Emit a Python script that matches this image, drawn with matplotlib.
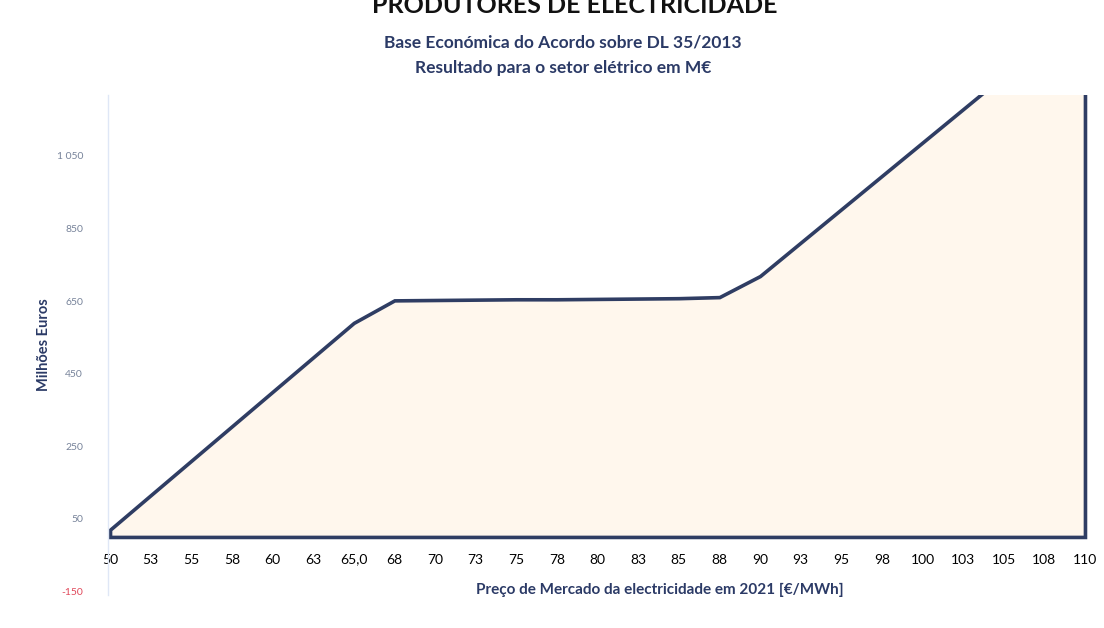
import matplotlib.pyplot as plt
import numpy as np

prices = ['50', '53', '55', '58', '60', '63', '65,0', '68', '70', '73', '75', '78', '80',
          '83', '85', '88', '90', '93', '95', '98', '100', '103', '105', '108', '110']
result = [20, 115, 210, 305, 400, 495, 590, 652, 653, 654, 655, 655, 656,
          657, 658, 661, 719, 811, 903, 995, 1087, 1179, 1271, 1363, 1455]
y_ticks = [-150, 50, 250, 450, 650, 850, 1050]
y_labels = ['-150', '50', '250', '450', '650', '850', '1 050']

navy = '#2f3d63'
title_col = '#2b3a66'

plt.rcParams['font.family'] = ['Lato', 'DejaVu Sans']

fig = plt.figure(figsize=(11.04, 6.28), dpi=100)
ax = fig.add_axes([108 / 1104, 1 - 595 / 628, (1087 - 108) / 1104, (595 - 95) / 628])

x = np.arange(len(prices))
ax.fill_between(x, 0, result, facecolor='#fff7ed', edgecolor=navy, linewidth=2.6,
                joinstyle='miter')

ax.set_xlim(-0.05, len(prices) - 1 + 0.05)
ax.set_ylim(-160, 1218)

ax.set_xticks(x)
ax.set_xticklabels(prices, fontsize=11, fontweight='heavy', color='#3c3c3c')
ax.spines['bottom'].set_position(('data', 0))
ax.spines['bottom'].set_visible(False)
ax.tick_params(axis='x', length=0, pad=12)

ax.set_yticks(y_ticks)
ax.set_yticklabels(y_labels, fontsize=7.5, color='#77839a')
ax.get_yticklabels()[0].set_color('#e0485a')
ax.tick_params(axis='y', length=0, pad=18)

for s in ['top', 'right']:
    ax.spines[s].set_visible(False)
ax.spines['left'].set_color('#dfe7f6')
ax.spines['left'].set_linewidth(1)

ax.set_ylabel('Milhões Euros', fontsize=10.5, fontweight='bold', color=title_col)
ax.yaxis.set_label_coords(-0.058, 0.5)

fig.text(660 / 1104, 1 - 590 / 628, 'Preço de Mercado da electricidade em 2021 [€/MWh]',
         ha='center', va='center', fontsize=11, fontweight='bold', color=title_col)

fig.text(575 / 1104, 1 - 13 / 628, 'PRODUTORES DE ELECTRICIDADE', ha='center', va='baseline',
         fontsize=18, fontweight='bold', color='#111111')
fig.text(563 / 1104, 1 - 43 / 628, 'Base Económica do Acordo sobre DL 35/2013',
         ha='center', va='center', fontsize=12.5, fontweight='bold', color=title_col)
fig.text(563 / 1104, 1 - 68 / 628, 'Resultado para o setor elétrico em M€',
         ha='center', va='center', fontsize=12.5, fontweight='bold', color=title_col)

fig.savefig('out.png', dpi=100)
